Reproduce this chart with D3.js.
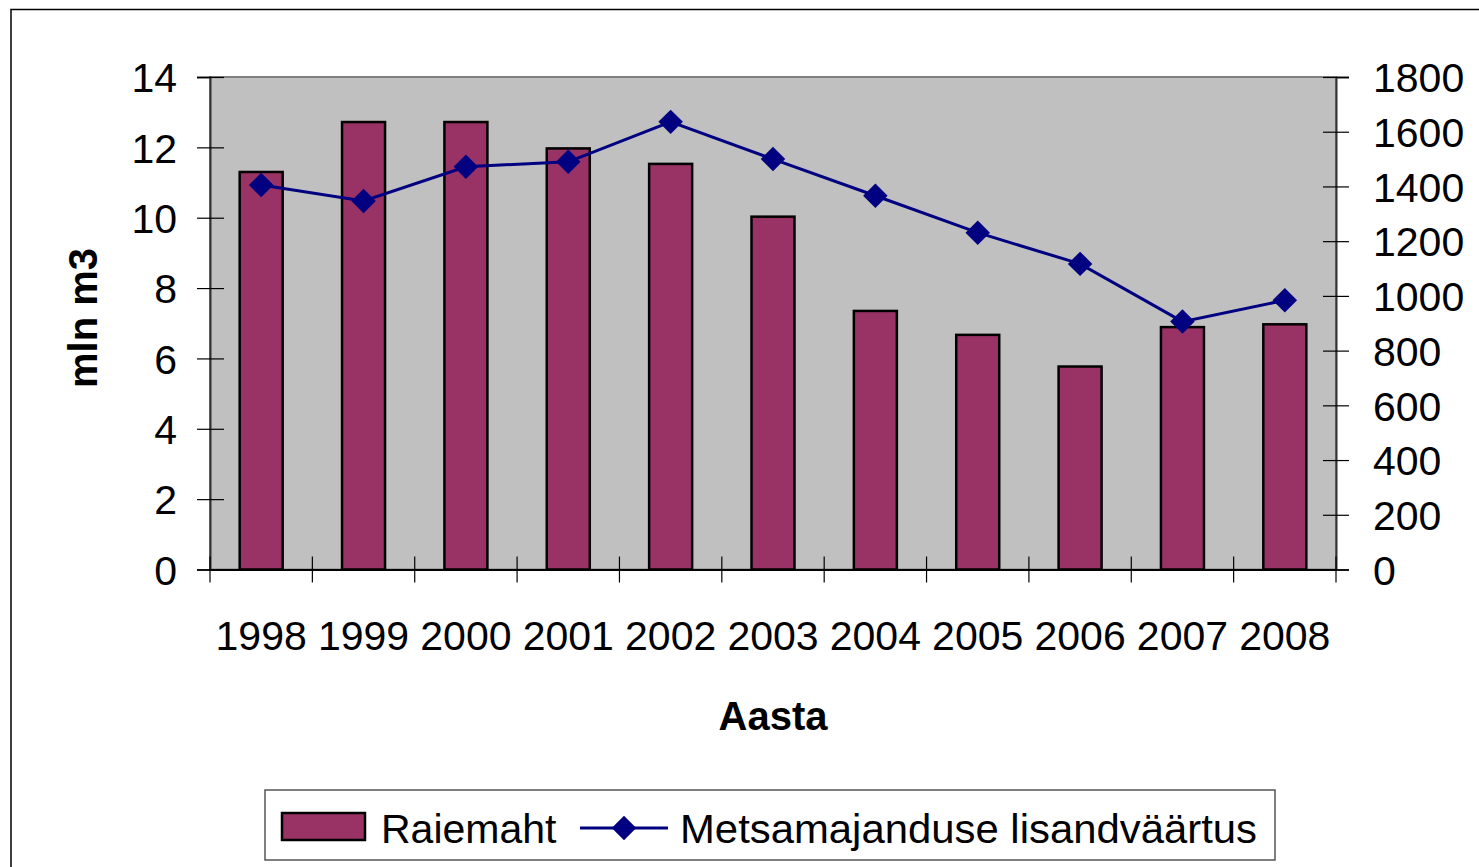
<!DOCTYPE html>
<html>
<head>
<meta charset="utf-8">
<script src="https://cdn.jsdelivr.net/npm/d3@7"></script>
<style>
  body { margin: 0; background: #fff; }
  svg { display: block; font-family: "Liberation Sans", Arial, sans-serif; }
</style>
</head>
<body>
<div class="graph"></div>
<script>
// data
const years = ['1998','1999','2000','2001','2002','2003','2004','2005','2006','2007','2008']
const raiemaht = [11.3, 12.72, 12.72, 11.97, 11.53, 10.03, 7.35, 6.67, 5.77, 6.89, 6.97]
const lisandvaartus = [1405, 1347, 1472, 1490, 1636, 1500, 1366, 1231, 1117, 906, 984]
const leftTicks = [0, 2, 4, 6, 8, 10, 12, 14]
const rightTicks = [0, 200, 400, 600, 800, 1000, 1200, 1400, 1600, 1800]

const W = 1479, H = 867
const plot = {left: 210, right: 1336, top: 77, bottom: 569.5}

let svg = d3.select('.graph')
    .append('svg')
    .attr('width', W)
    .attr('height', H)

// outer frame
svg.append('rect')
    .attr('x', 11).attr('y', 9.5)
    .attr('width', W + 20).attr('height', H + 20)
    .attr('fill', '#fff')
    .attr('stroke', '#000')
    .attr('stroke-width', 1.5)

let x = d3.scaleBand()
    .domain(years)
    .range([plot.left, plot.right])
let yL = d3.scaleLinear().domain([0, 14]).range([plot.bottom, plot.top])
let yR = d3.scaleLinear().domain([0, 1800]).range([plot.bottom, plot.top])

// plot area
svg.append('rect')
    .attr('x', plot.left).attr('y', plot.top)
    .attr('width', plot.right - plot.left)
    .attr('height', plot.bottom - plot.top)
    .attr('fill', '#c0c0c0')
    .attr('stroke', '#808080')
    .attr('stroke-width', 2)

// bars
const barW = 43
svg.selectAll('rect.bar')
    .data(raiemaht)
    .enter()
    .append('rect')
    .attr('class', 'bar')
    .attr('x', (d, i) => x(years[i]) + x.bandwidth() / 2 - barW / 2)
    .attr('y', d => yL(d))
    .attr('width', barW)
    .attr('height', d => yL(0) - yL(d))
    .attr('fill', '#993366')
    .attr('stroke', '#000')
    .attr('stroke-width', 2.5)

// axes
const fs = '41px'
let axL = svg.append('g')
    .attr('transform', `translate(${plot.left},0)`)
    .call(d3.axisLeft(yL).tickValues(leftTicks).tickSize(13).tickPadding(20))
axL.selectAll('.tick line').attr('x2', -13).attr('x1', 14)
axL.select('.domain').attr('stroke', '#333').attr('stroke-width', 2)

let axR = svg.append('g')
    .attr('transform', `translate(${plot.right},0)`)
    .call(d3.axisRight(yR).tickValues(rightTicks).tickFormat(d3.format('d')).tickSize(13).tickPadding(24))
axR.selectAll('.tick line').attr('x2', 13).attr('x1', -13)
axR.select('.domain').attr('stroke', '#333').attr('stroke-width', 2)

let axB = svg.append('g')
    .attr('transform', `translate(0,${plot.bottom})`)
    .call(d3.axisBottom(x).tickSize(0).tickPadding(64))
axB.select('.domain').attr('stroke', '#000').attr('stroke-width', 2)
// category boundary ticks
axB.selectAll('line.bound')
    .data(d3.range(years.length + 1))
    .enter()
    .append('line')
    .attr('class', 'bound')
    .attr('x1', i => plot.left + i * x.step())
    .attr('x2', i => plot.left + i * x.step())
    .attr('y1', -13).attr('y2', 13)
    .attr('stroke', '#000')
    .attr('stroke-width', 1.2)

svg.selectAll('.tick text')
    .attr('font-size', fs)
    .attr('font-family', '"Liberation Sans", Arial, sans-serif')
    .attr('fill', '#000')
svg.selectAll('.tick line').attr('stroke', '#000').attr('stroke-width', 1.2)
axL.selectAll('.tick text').attr('dy', '0.36em')
axR.selectAll('.tick text').attr('dy', '0.36em')
axB.selectAll('.tick text').attr('dy', '0.71em').attr('y', 51)

// line series
let line = d3.line()
    .x((d, i) => x(years[i]) + x.bandwidth() / 2)
    .y(d => yR(d))

svg.append('path')
    .datum(lisandvaartus)
    .attr('d', line)
    .attr('fill', 'none')
    .attr('stroke', '#000080')
    .attr('stroke-width', 3)

const diamond = d3.symbol().type(d3.symbolSquare).size(300)
svg.selectAll('path.marker')
    .data(lisandvaartus)
    .enter()
    .append('path')
    .attr('class', 'marker')
    .attr('d', diamond)
    .attr('transform', (d, i) => `translate(${x(years[i]) + x.bandwidth() / 2},${yR(d)}) rotate(45)`)
    .attr('fill', '#000080')

// axis titles
svg.append('text')
    .attr('x', (plot.left + plot.right) / 2)
    .attr('y', 730)
    .attr('text-anchor', 'middle')
    .attr('font-size', '40px')
    .attr('font-weight', 'bold')
    .text('Aasta')

svg.append('text')
    .attr('transform', 'translate(97,318) rotate(-90)')
    .attr('text-anchor', 'middle')
    .attr('font-size', '40px')
    .attr('font-weight', 'bold')
    .text('mln m3')

// legend
let lg = svg.append('g')
lg.append('rect')
    .attr('x', 265).attr('y', 790)
    .attr('width', 1010).attr('height', 70)
    .attr('fill', '#fff')
    .attr('stroke', '#555')
    .attr('stroke-width', 1.5)
lg.append('rect')
    .attr('x', 282).attr('y', 813)
    .attr('width', 83).attr('height', 27)
    .attr('fill', '#993366')
    .attr('stroke', '#000')
    .attr('stroke-width', 2.5)
lg.append('text')
    .attr('x', 381).attr('y', 843)
    .attr('font-size', '41px')
    .text('Raiemaht')
lg.append('line')
    .attr('x1', 580).attr('x2', 668)
    .attr('y1', 828).attr('y2', 828)
    .attr('stroke', '#000080')
    .attr('stroke-width', 3)
lg.append('path')
    .attr('d', diamond)
    .attr('transform', 'translate(624,828) rotate(45)')
    .attr('fill', '#000080')
lg.append('text')
    .attr('x', 680).attr('y', 843)
    .attr('font-size', '41px')
    .attr('textLength', 577)
    .attr('lengthAdjust', 'spacingAndGlyphs')
    .text('Metsamajanduse lisandväärtus')
</script>
</body>
</html>
